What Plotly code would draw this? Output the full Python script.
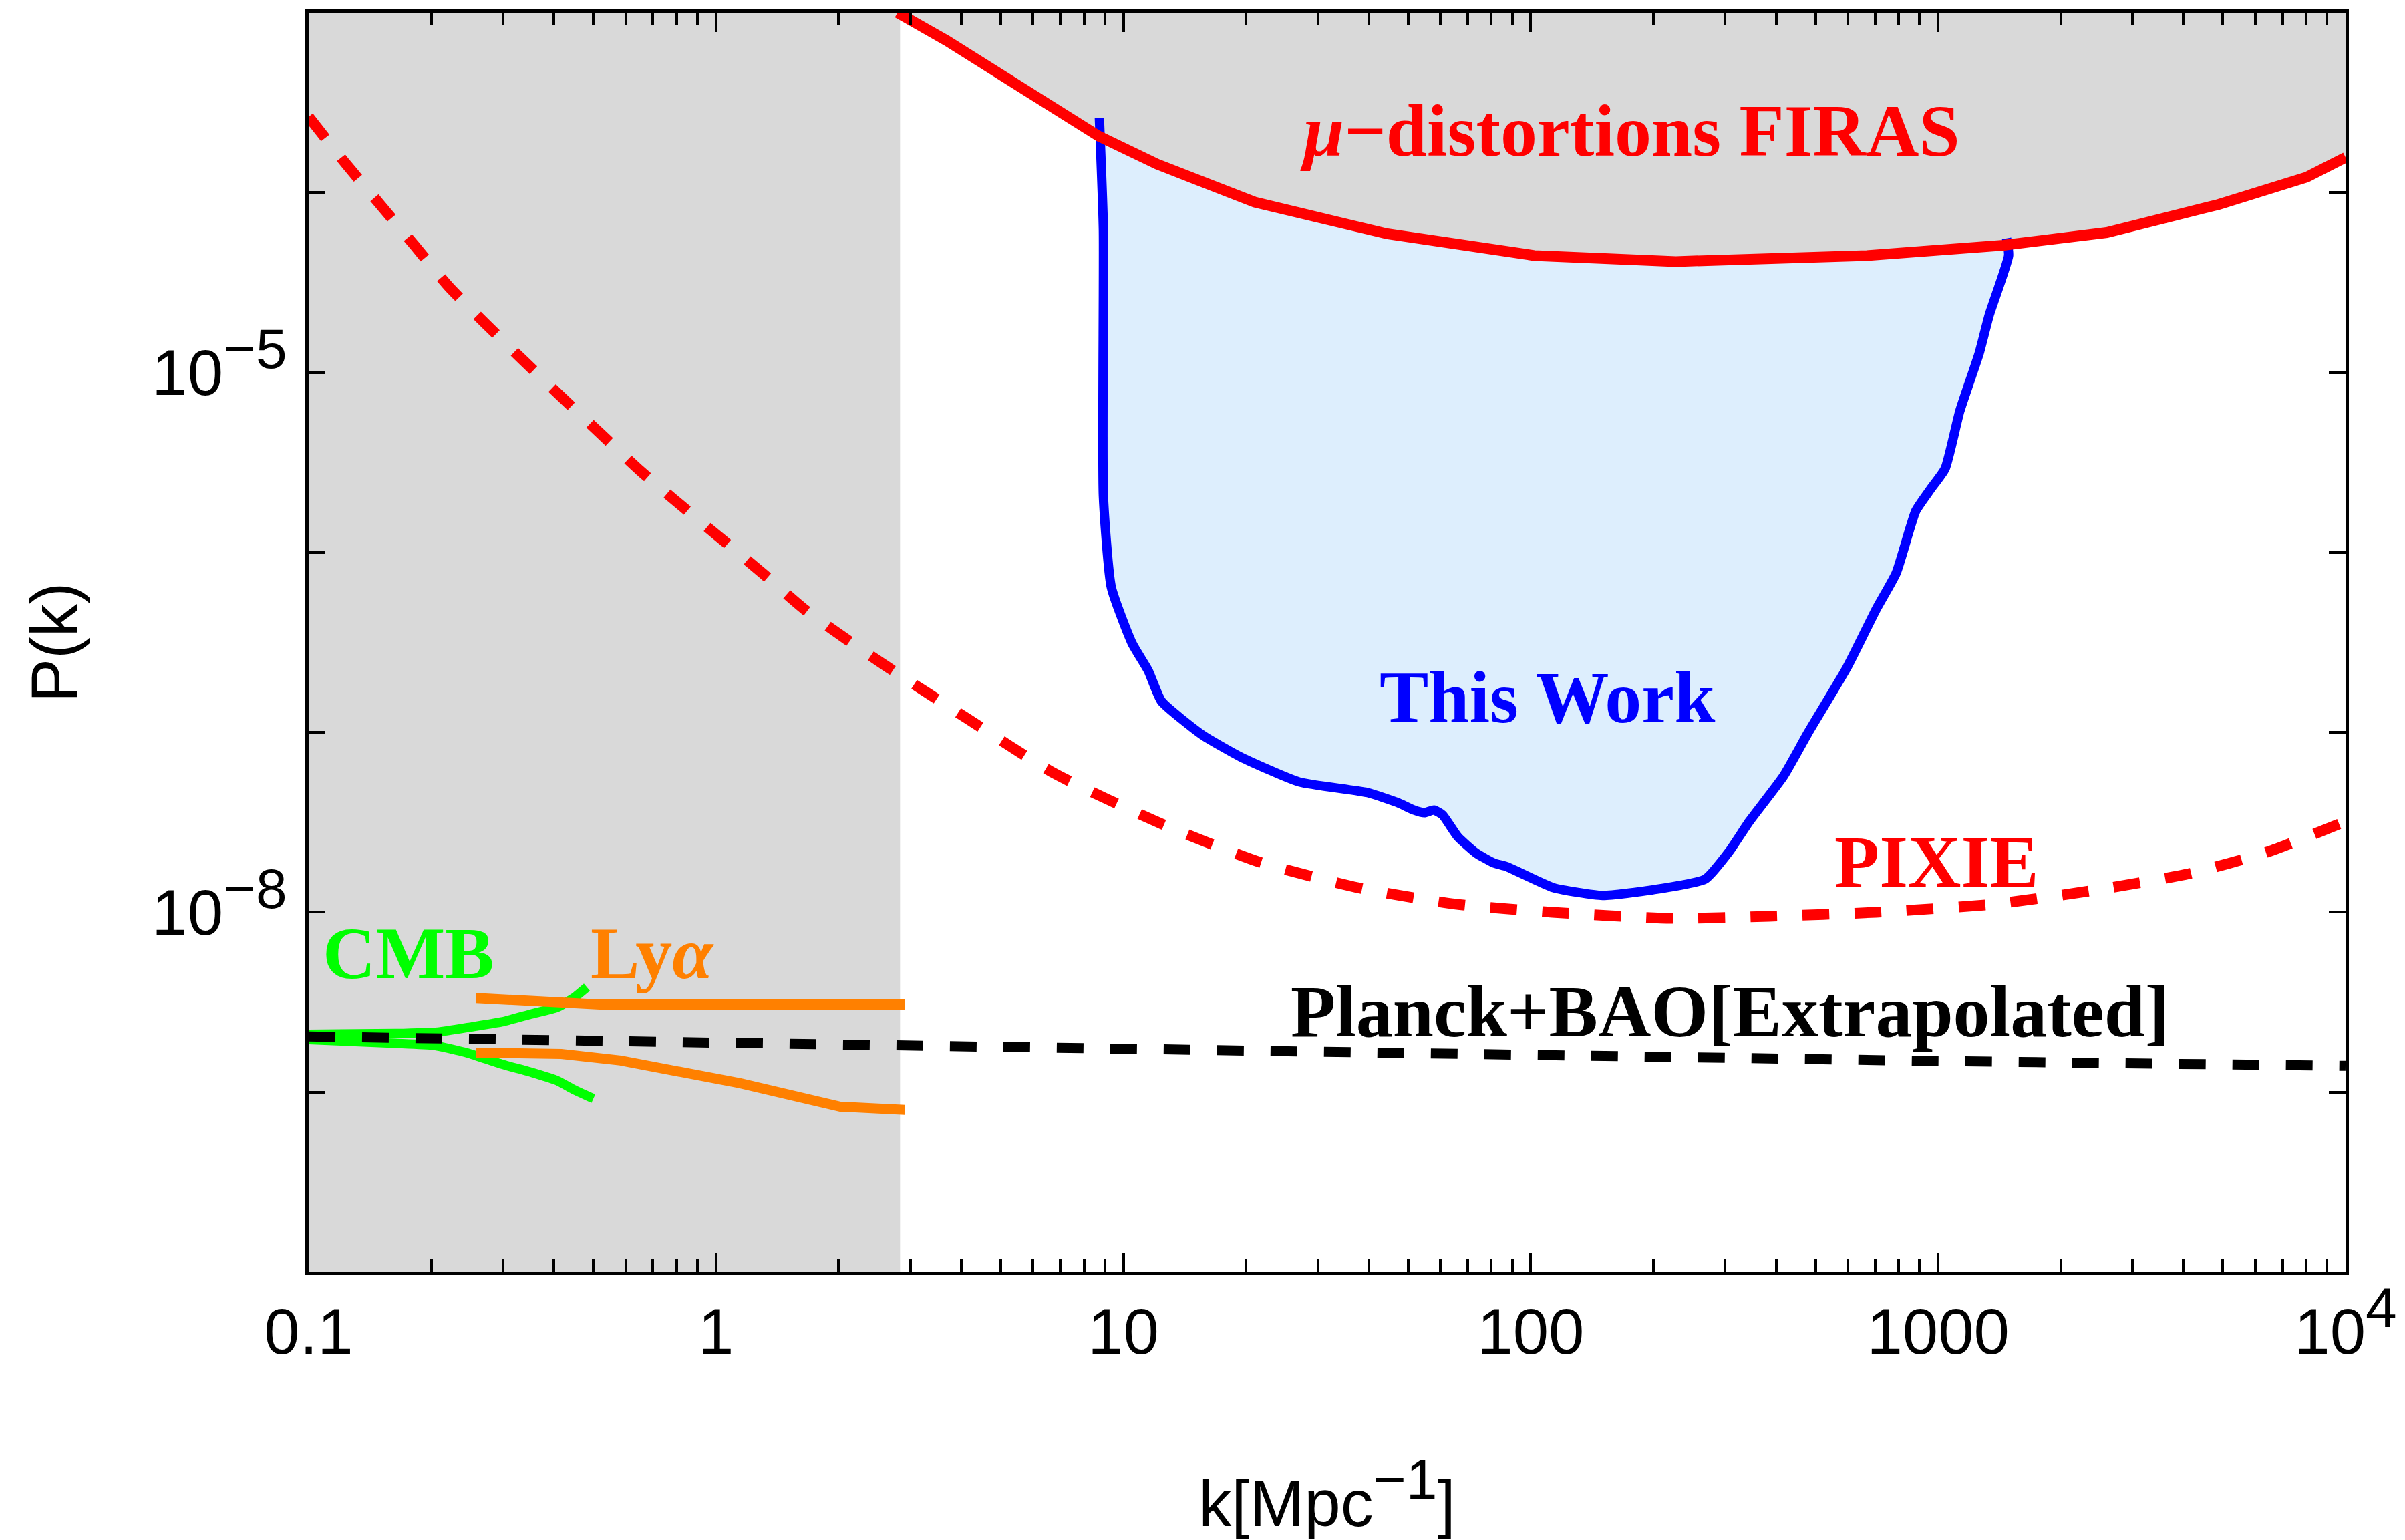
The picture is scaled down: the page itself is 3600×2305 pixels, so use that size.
import numpy as np
import plotly.graph_objects as go

# ---------------- data ----------------
firas_k = [2.79, 3.68, 8.7, 12.1, 21.0, 44.4, 102, 227, 668, 1449, 2594, 4887, 8035, 10000]
firas_P = [1.0e-3, 7.0e-4, 2.06e-4, 1.44e-4, 8.85e-5, 5.9e-5, 4.47e-5, 4.14e-5, 4.47e-5,
           5.1e-5, 6.0e-5, 8.6e-5, 1.22e-4, 1.57e-4]

pixie_k = [0.1, 0.1227, 0.150, 0.1824, 0.2203, 0.2729, 0.338, 0.4198, 0.5224, 0.6516,
           0.8241, 1.040, 1.309, 1.652, 2.099, 2.649, 4.12, 6.78, 12.4, 21.6, 37.6, 65.4,
           113, 221, 385, 705, 1370, 2387, 4140, 6460, 10000]
pixie_P = [2.64e-4, 1.47e-4, 8.55e-5, 5.05e-5, 3.02e-5, 1.85e-5, 1.156e-5, 7.23e-6, 4.54e-6,
           2.84e-6, 1.81e-6, 1.17e-6, 7.57e-7, 4.81e-7, 3.27e-7, 2.29e-7, 1.2e-7, 5.9e-8,
           3.1e-8, 1.9e-8, 1.37e-8, 1.11e-8, 1.0e-8, 9.25e-9, 9.5e-9, 1.0e-8, 1.11e-8,
           1.32e-8, 1.64e-8, 2.17e-8, 3.2e-8]

work_k = [8.73, 8.93, 8.93, 9.34, 10.5, 11.5, 12.4, 15.6, 19.4, 27.0, 39.8, 47.1, 51.6, 54.8,
          57.8, 60.7, 66.2, 73.3, 81.1, 87.5, 113.6, 150, 198, 268, 307, 344, 417, 480, 597,
          705, 789, 881, 957, 1040, 1130, 1261, 1334, 1489, 1472]
work_P = [2.6e-4, 6.2e-5, 2.06e-6, 6.4e-7, 3.13e-7, 2.21e-7, 1.49e-7, 9.7e-8, 7.3e-8, 5.3e-8,
          4.62e-8, 4.07e-8, 3.70e-8, 3.57e-8, 3.70e-8, 3.48e-8, 2.63e-8, 2.14e-8, 1.88e-8,
          1.79e-8, 1.37e-8, 1.24e-8, 1.33e-8, 1.53e-8, 2.18e-8, 3.2e-8, 5.7e-8, 1.0e-7,
          2.29e-7, 4.85e-7, 7.7e-7, 1.7e-6, 2.24e-6, 2.92e-6, 6.1e-6, 1.28e-5, 2.08e-5,
          4.47e-5, 5.57e-5]

planck_k = [0.1, 1, 10, 100, 1000, 10000]
planck_P = [2.04e-9, 1.88e-9, 1.73e-9, 1.61e-9, 1.49e-9, 1.40e-9]

cmb_up_k = [0.1, 0.163, 0.2075, 0.252, 0.298, 0.352, 0.407, 0.449, 0.482]
cmb_up_P = [2.10e-9, 2.12e-9, 2.16e-9, 2.31e-9, 2.46e-9, 2.72e-9, 2.96e-9, 3.36e-9, 3.83e-9]
cmb_lo_k = [0.1, 0.163, 0.203, 0.246, 0.298, 0.352, 0.407, 0.449, 0.5]
cmb_lo_P = [1.96e-9, 1.87e-9, 1.82e-9, 1.65e-9, 1.43e-9, 1.29e-9, 1.16e-9, 1.03e-9, 9.2e-10]

lya_up_k = [0.2575, 0.518, 2.91]
lya_up_P = [3.34e-9, 3.07e-9, 3.07e-9]
lya_lo_k = [0.2575, 0.417, 0.583, 1.146, 2.02, 2.91]
lya_lo_P = [1.66e-9, 1.63e-9, 1.50e-9, 1.12e-9, 8.3e-10, 7.97e-10]

shade_k_max = 2.83          # right edge of the grey excluded band
k_min, k_max = 0.1, 1.0e4   # axis range
P_min, P_max = 1.0e-10, 1.0e-3

SUP = "<sup><span style='font-size:84px'>{}</span></sup>"
x_tickvals = [0.1, 1, 10, 100, 1000, 10000]
x_ticktext = ["0.1", "1", "10", "100", "1000", "10" + SUP.format("4")]
x_minor = [m * 10.0 ** e for e in range(-1, 4) for m in range(2, 10)]
y_tickvals = [1e-8, 1e-5]
y_ticktext = ["10" + SUP.format("\u22128"), "10" + SUP.format("\u22125")]
y_minor = [1e-9, 1e-7, 1e-6, 1e-4]

# ---------------- colours ----------------
GREY = "#d9d9d9"
RED = "#ff0000"
BLUE = "#0000ff"
LIGHTBLUE = "#ddeefd"
GREEN = "#00ff00"
ORANGE = "#ff8000"

fig = go.Figure()

# grey band on the left (full height)
fig.add_trace(go.Scatter(
    x=[k_min, shade_k_max, shade_k_max, k_min, k_min],
    y=[P_min, P_min, P_max, P_max, P_min],
    mode="lines", fill="toself", fillcolor=GREY, line=dict(width=0),
    hoverinfo="skip", showlegend=False))

# light-blue region of "This Work"
fig.add_trace(go.Scatter(
    x=work_k, y=work_P, mode="lines", fill="toself", fillcolor=LIGHTBLUE,
    line=dict(width=0), hoverinfo="skip", showlegend=False))

# grey region excluded by FIRAS (above the curve)
fig.add_trace(go.Scatter(
    x=firas_k + [k_max, firas_k[0]],
    y=firas_P + [P_max, P_max],
    mode="lines", fill="toself", fillcolor=GREY, line=dict(width=0),
    hoverinfo="skip", showlegend=False))

# This Work outline
fig.add_trace(go.Scatter(x=work_k, y=work_P, mode="lines",
                         line=dict(color=BLUE, width=14, shape="spline", smoothing=0.5),
                         showlegend=False))
# FIRAS line
fig.add_trace(go.Scatter(x=firas_k, y=firas_P, mode="lines",
                         line=dict(color=RED, width=16), showlegend=False))
# PIXIE dashed
fig.add_trace(go.Scatter(x=pixie_k, y=pixie_P, mode="lines",
                         line=dict(color=RED, width=16, dash="40px,38px",
                                   shape="spline", smoothing=0.6),
                         showlegend=False))
# CMB
for kk, pp in [(cmb_up_k, cmb_up_P), (cmb_lo_k, cmb_lo_P)]:
    fig.add_trace(go.Scatter(x=kk, y=pp, mode="lines",
                             line=dict(color=GREEN, width=14, shape="spline", smoothing=0.5),
                             showlegend=False))
# Lyman alpha
for kk, pp in [(lya_up_k, lya_up_P), (lya_lo_k, lya_lo_P)]:
    fig.add_trace(go.Scatter(x=kk, y=pp, mode="lines",
                             line=dict(color=ORANGE, width=15), showlegend=False))
# Planck + BAO extrapolated
fig.add_trace(go.Scatter(x=planck_k, y=planck_P, mode="lines",
                         line=dict(color="black", width=15, dash="40px,40px"),
                         showlegend=False))

# ---------------- labels ----------------
SERIF = "Liberation Serif, Times New Roman, serif"
labels = [
    ("<b><i>\u03bc</i>\u2212distortions FIRAS</b>", 175, 2.2e-4, RED),
    ("<b>This Work</b>", 110, 1.56e-7, BLUE),
    ("<b>PIXIE</b>", 990, 1.91e-8, RED),
    ("<b>CMB</b>", 0.176, 5.9e-9, GREEN),
    ("<b>Ly<i>\u03b1</i></b>", 0.697, 5.9e-9, ORANGE),
    ("<b>Planck+BAO[Extrapolated]</b>", 308, 2.8e-9, "black"),
]
for txt, kx, py, col in labels:
    fig.add_annotation(x=np.log10(kx), y=np.log10(py), xref="x", yref="y", text=txt,
                       showarrow=False, xanchor="center", yanchor="middle",
                       font=dict(family=SERIF, size=110, color=col))

SANS = "Liberation Sans, Arial, sans-serif"
axis_common = dict(
    type="log", showgrid=False, zeroline=False, showline=True, linecolor="black",
    linewidth=5, mirror="allticks", ticks="inside", tickcolor="black", tickwidth=4,
    tickfont=dict(family=SANS, size=96, color="black"),
)

fig.update_layout(
    width=3600, height=2305,
    margin=dict(l=462, r=87, t=19, b=401),
    paper_bgcolor="white", plot_bgcolor="white",
    xaxis=dict(axis_common, range=[np.log10(k_min), np.log10(k_max)],
               tickmode="array", tickvals=x_tickvals, ticktext=x_ticktext, ticklen=29,
               ticklabelstandoff=2,
               minor=dict(tickmode="array", tickvals=x_minor, ticks="inside", ticklen=19,
                          tickwidth=4, tickcolor="black", showgrid=False),
               title=dict(text="k[Mpc" + SUP.format("\u22121") + "]", standoff=175,
                          font=dict(family=SANS, size=98, color="black"))),
    yaxis=dict(axis_common, range=[np.log10(P_min), np.log10(P_max)],
               tickmode="array", tickvals=y_tickvals, ticktext=y_ticktext, ticklen=25,
               ticklabelstandoff=8,
               minor=dict(tickmode="array", tickvals=y_minor, ticks="inside", ticklen=25,
                          tickwidth=4, tickcolor="black", showgrid=False),
               title=dict(text="P(k)", standoff=80,
                          font=dict(family=SANS, size=98, color="black"))),
)

fig.write_html("out.html", config={"displayModeBar": False},
               post_script="document.body.style.margin='0';")
